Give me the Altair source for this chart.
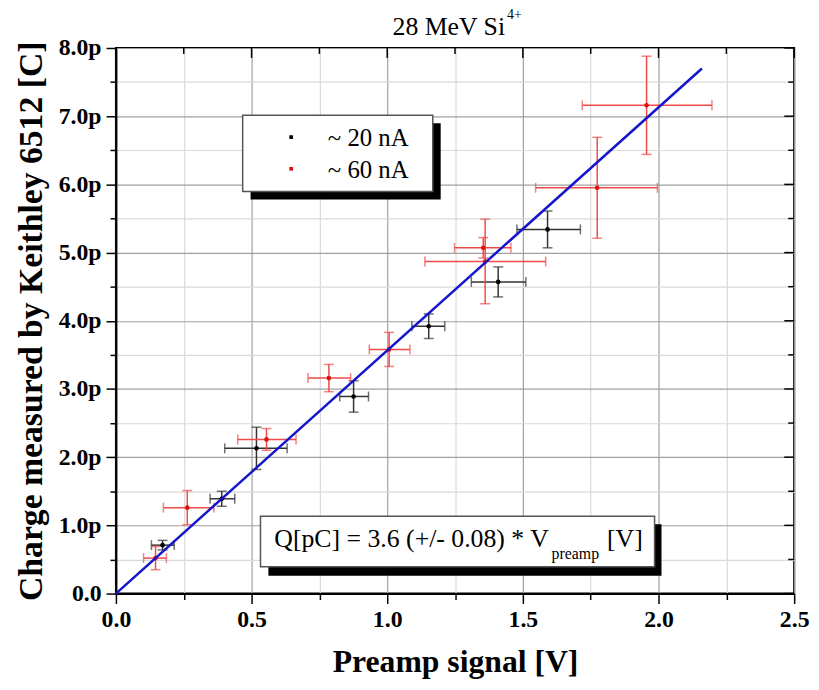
import altair as alt
import pandas as pd

# ---------------- data ----------------
SERIES = ["~ 20 nA", "~ 60 nA"]

# ~20 nA (black)
B_X = [0.172, 0.390, 0.518, 0.876, 1.153, 1.409, 1.591]
B_XLO = [0.131, 0.347, 0.401, 0.825, 1.091, 1.310, 1.478]
B_XHI = [0.215, 0.438, 0.631, 0.931, 1.212, 1.511, 1.712]
B_Y = [0.71, 1.39, 2.13, 2.89, 3.92, 4.57, 5.34]
B_YERR = [0.07, 0.11, 0.31, 0.23, 0.18, 0.22, 0.27]

# ~60 nA (red)
R_X = [0.146, 0.263, 0.555, 0.785, 1.007, 1.354, 1.361, 1.774, 1.956]
R_XLO = [0.102, 0.175, 0.449, 0.708, 0.934, 1.248, 1.139, 1.547, 1.719]
R_XHI = [0.186, 0.361, 0.664, 0.865, 1.084, 1.456, 1.584, 1.996, 2.197]
R_Y = [0.52, 1.26, 2.26, 3.16, 3.58, 5.07, 4.87, 5.95, 7.16]
R_YERR = [0.17, 0.25, 0.16, 0.20, 0.25, 0.15, 0.62, 0.74, 0.72]

# linear fit line end points
FIT_X = [0.0, 2.16]
FIT_Y = [0.0, 7.70]

X_TICKS = [0.0, 0.25, 0.5, 0.75, 1.0, 1.25, 1.5, 1.75, 2.0, 2.25, 2.5]
Y_TICKS = [0.0, 0.5, 1.0, 1.5, 2.0, 2.5, 3.0, 3.5, 4.0, 4.5, 5.0, 5.5, 6.0, 6.5, 7.0, 7.5, 8.0]
X_MAJOR = [v for v in X_TICKS if v % 0.5 == 0]
X_MINOR = [v for v in X_TICKS if v % 0.5 != 0]
Y_MAJOR = [v for v in Y_TICKS if v % 1 == 0]
Y_MINOR = [v for v in Y_TICKS if v % 1 != 0]

TITLE_MAIN = "28 MeV Si"
TITLE_SUP = "4+"
X_TITLE = "Preamp signal [V]"
Y_TITLE = "Charge measured by Keithley 6512 [C]"
FIT_TEXT = "Q[pC] = 3.6 (+/- 0.08) * V"
FIT_SUB = "preamp"
FIT_UNIT = "[V]"

# ---------------- styling ----------------
W, H = 685, 551
FONT = "Liberation Serif"
PT_COLORS = ["#000000", "#e01010"]
ERR_COLORS = ["#333333", "#f04a4a"]
FIT_COLOR = "#1515cc"

xs = alt.Scale(domain=[0, 2.5], nice=False, zero=False)
ys = alt.Scale(domain=[0, 8], nice=False, zero=False)

x_axis = alt.Axis(
    values=X_TICKS,
    title=X_TITLE,
    labelExpr="datum.value % 0.5 === 0 ? format(datum.value, '.1f') : ''",
    labelOverlap=False,
    labelFlush=False,
    tickSize={"condition": {"test": "datum.value % 0.5 === 0", "value": 10}, "value": 6},
    gridColor={"condition": {"test": "datum.value % 0.5 === 0", "value": "#a0a0a0"}, "value": "#dadada"},
    grid=True,
    gridWidth=1.2,
    domainColor="black",
    domainWidth=2,
    tickColor="black",
    tickWidth=1.5,
    labelFont=FONT,
    labelFontWeight="bold",
    labelFontSize=24,
    labelColor="black",
    labelPadding=4,
    titleFont=FONT,
    titleFontWeight="bold",
    titleFontSize=32,
    titleColor="black",
    titlePadding=16,
)

y_axis = alt.Axis(
    values=Y_TICKS,
    title=Y_TITLE,
    labelExpr="datum.value % 1 === 0 ? (datum.value === 0 ? '0.0' : format(datum.value, '.1f') + 'p') : ''",
    labelOverlap=False,
    tickSize={"condition": {"test": "datum.value % 1 === 0", "value": 10}, "value": 6},
    gridColor={"condition": {"test": "datum.value % 1 === 0", "value": "#a0a0a0"}, "value": "#dadada"},
    grid=True,
    gridWidth=1.2,
    domainColor="black",
    domainWidth=2,
    tickColor="black",
    tickWidth=1.5,
    labelFont=FONT,
    labelFontWeight="bold",
    labelFontSize=24,
    labelColor="black",
    labelPadding=5,
    titleFont=FONT,
    titleFontWeight="bold",
    titleFontSize=34,
    titleColor="black",
    titlePadding=10,
)


def X(field):
    return alt.X(field, type="quantitative", scale=xs, axis=x_axis)


def Y(field):
    return alt.Y(field, type="quantitative", scale=ys, axis=y_axis)


def series_df(xv, xlo, xhi, yv, yerr):
    d = pd.DataFrame({"x": xv, "xlo": xlo, "xhi": xhi, "y": yv, "yerr": yerr})
    d["ylo"] = d["y"] - d["yerr"]
    d["yhi"] = d["y"] + d["yerr"]
    return d


frames = [series_df(B_X, B_XLO, B_XHI, B_Y, B_YERR), series_df(R_X, R_XLO, R_XHI, R_Y, R_YERR)]

layers = []

# inward ticks on top and right frame
top_major = alt.Chart(pd.DataFrame({"t": X_MAJOR})).mark_rule(color="black", strokeWidth=1.5).encode(
    x=X("t"), y=alt.value(0), y2=alt.value(10))
top_minor = alt.Chart(pd.DataFrame({"t": X_MINOR})).mark_rule(color="black", strokeWidth=1.5).encode(
    x=X("t"), y=alt.value(0), y2=alt.value(6))
right_major = alt.Chart(pd.DataFrame({"t": Y_MAJOR})).mark_rule(color="black", strokeWidth=1.5).encode(
    y=Y("t"), x=alt.value(W), x2=alt.value(W - 10))
right_minor = alt.Chart(pd.DataFrame({"t": Y_MINOR})).mark_rule(color="black", strokeWidth=1.5).encode(
    y=Y("t"), x=alt.value(W), x2=alt.value(W - 6))
layers += [top_major, top_minor, right_major, right_minor]

# error bars and points
for d, pc, ec in zip(frames, PT_COLORS, ERR_COLORS):
    base = alt.Chart(d)
    layers.append(base.mark_rule(color=ec, strokeWidth=1.5).encode(x=X("x"), y=Y("ylo"), y2="yhi"))
    layers.append(base.mark_rule(color=ec, strokeWidth=1.5).encode(x=X("xlo"), x2="xhi", y=Y("y")))
    layers.append(base.mark_tick(color=ec, orient="horizontal", size=10, thickness=1.5).encode(x=X("x"), y=Y("ylo")))
    layers.append(base.mark_tick(color=ec, orient="horizontal", size=10, thickness=1.5).encode(x=X("x"), y=Y("yhi")))
    layers.append(base.mark_tick(color=ec, orient="vertical", size=10, thickness=1.5).encode(x=X("xlo"), y=Y("y")))
    layers.append(base.mark_tick(color=ec, orient="vertical", size=10, thickness=1.5).encode(x=X("xhi"), y=Y("y")))

for d, pc in zip(frames, PT_COLORS):
    layers.append(alt.Chart(d).mark_circle(color=pc, size=22, opacity=1).encode(x=X("x"), y=Y("y")))

# fit line
fit = alt.Chart(pd.DataFrame({"x": FIT_X, "y": FIT_Y})).mark_line(color=FIT_COLOR, strokeWidth=2.5).encode(
    x=X("x"), y=Y("y"))
layers.append(fit)

one = pd.DataFrame({"k": [0]})

# legend box with shadow
layers.append(alt.Chart(one).mark_rect(color="black").encode(
    x=alt.value(136), x2=alt.value(328), y=alt.value(76), y2=alt.value(153)))
layers.append(alt.Chart(one).mark_rect(fill="white", stroke="#555555", strokeWidth=1.5).encode(
    x=alt.value(128), x2=alt.value(320), y=alt.value(68), y2=alt.value(145)))
for i, (name, pc) in enumerate(zip(SERIES, PT_COLORS)):
    yy = 90 + 32 * i
    layers.append(alt.Chart(one).mark_square(color=pc, size=14, opacity=1).encode(
        x=alt.value(177), y=alt.value(yy)))
    layers.append(alt.Chart(one).mark_text(
        text=name, font=FONT, fontSize=25, color="black", align="left", baseline="alphabetic").encode(
        x=alt.value(214), y=alt.value(yy + 9)))

# fit annotation box with shadow
layers.append(alt.Chart(one).mark_rect(color="black").encode(
    x=alt.value(154), x2=alt.value(551), y=alt.value(481), y2=alt.value(533)))
layers.append(alt.Chart(one).mark_rect(fill="white", stroke="#555555", strokeWidth=1.5).encode(
    x=alt.value(146), x2=alt.value(544), y=alt.value(473), y2=alt.value(524)))
layers.append(alt.Chart(one).mark_text(
    text=FIT_TEXT, font=FONT, fontSize=26, color="black", align="left", baseline="alphabetic").encode(
    x=alt.value(160), y=alt.value(504)))
layers.append(alt.Chart(one).mark_text(
    text=FIT_SUB, font=FONT, fontSize=16, color="black", align="left", baseline="alphabetic").encode(
    x=alt.value(440), y=alt.value(516)))
layers.append(alt.Chart(one).mark_text(
    text=FIT_UNIT, font=FONT, fontSize=26, color="black", align="left", baseline="alphabetic").encode(
    x=alt.value(496), y=alt.value(504)))

# title with superscript
layers.append(alt.Chart(one).mark_text(
    text=TITLE_MAIN, font=FONT, fontSize=26, color="black", align="right", baseline="alphabetic").encode(
    x=alt.value(393), y=alt.value(-13)))
layers.append(alt.Chart(one).mark_text(
    text=TITLE_SUP, font=FONT, fontSize=14, color="black", align="left", baseline="alphabetic").encode(
    x=alt.value(395), y=alt.value(-29)))

chart = alt.layer(*layers).properties(
    width=W,
    height=H,
    autosize=alt.AutoSizeParams(type="none"),
    padding={"left": 109, "top": 37, "right": 17, "bottom": 94},
).configure_view(stroke="black", strokeWidth=2, fill="white")

chart.save("out.html", embed_options={"renderer": "svg", "actions": False})
